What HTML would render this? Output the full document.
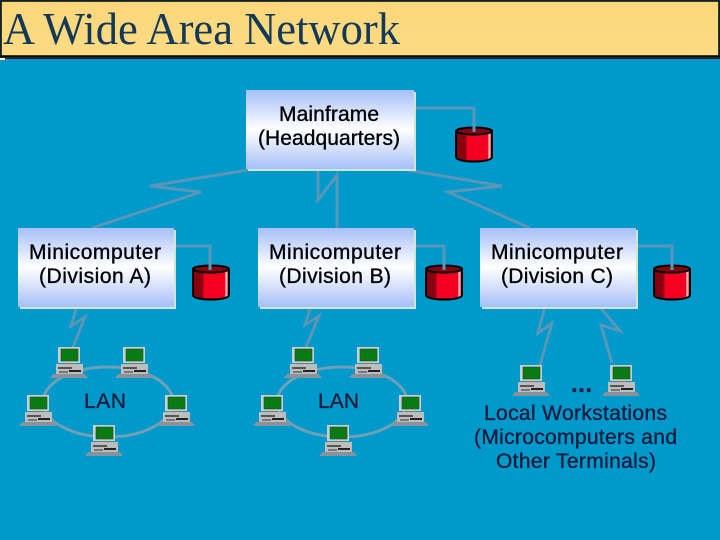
<!DOCTYPE html>
<html><head><meta charset="utf-8"><style>
html,body{margin:0;padding:0;width:720px;height:540px;overflow:hidden;background:#0099cc}
svg{display:block}
text{font-family:"Liberation Sans",sans-serif;font-size:21px;fill:#000;stroke:#000;stroke-width:.35px;text-anchor:start}
text.d{fill:#0a1a3a;stroke:#0a1a3a}
</style></head><body>
<svg width="720" height="540" viewBox="0 0 720 540" xmlns="http://www.w3.org/2000/svg">
<defs>
<linearGradient id="t" x1="0" y1="0" x2="0" y2="1"><stop offset="0" stop-color="#fbd67a"/><stop offset="1" stop-color="#fedc84"/></linearGradient>
<linearGradient id="b" x1="0" y1="0" x2="0" y2="1"><stop offset="0" stop-color="#a6bff8"/><stop offset=".5" stop-color="#ffffff"/><stop offset="1" stop-color="#a6bff8"/></linearGradient>
<linearGradient id="c" x1="0" y1="0" x2="1" y2="0"><stop offset="0" stop-color="#800010"/><stop offset=".28" stop-color="#900010"/><stop offset=".3" stop-color="#f40020"/><stop offset=".88" stop-color="#f40020"/><stop offset=".92" stop-color="#ffd0d0"/><stop offset="1" stop-color="#c00010"/></linearGradient>
<symbol id="pc" width="38" height="31" viewBox="0 0 38 31" overflow="visible">
<rect x="8" y="0" width="22" height="16" fill="#c6d0cc"/>
<rect x="11" y="2" width="17" height="12" fill="#0a7a14" stroke="#264a30" stroke-width=".6"/>
<rect x="14" y="16" width="10" height="2" fill="#777"/>
<rect x="6" y="17" width="27" height="10" fill="#bdbdbd"/>
<rect x="8" y="20" width="14" height="2" fill="#555"/>
<rect x="19" y="23" width="12" height="2" fill="#222"/>
<rect x="9" y="24" width="9" height="2" fill="#777"/>
<polygon points="3,27 35,27 38,31 0,31" fill="#87929a"/>
</symbol>
<symbol id="cy" width="38" height="36" viewBox="0 0 38 36" overflow="visible">
<path d="M1 5 V31 C1 37 37 37 37 31 V5 Z" fill="url(#c)" stroke="#000" stroke-width="2"/>
<ellipse cx="19" cy="5" rx="18" ry="3.5" fill="#8a0010" stroke="#000" stroke-width="2"/>
</symbol>
</defs>

<rect width="720" height="540" fill="#0099cc"/>
<rect x="0" y="56" width="720" height="3" fill="#222"/>
<rect x="0" y="58" width="5" height="2" fill="#fff"/>
<rect x="1" y="1" width="718" height="55" fill="url(#t)" stroke="#000" stroke-width="1.5"/>
<text x="3" y="44" textLength="397" lengthAdjust="spacingAndGlyphs" style="font-family:'Liberation Serif',serif;font-size:46px;fill:#123a58;stroke:none">A Wide Area Network</text>

<g fill="none" stroke="#5a96b6" stroke-width="3" stroke-linejoin="miter">
<polyline points="248,170 150,186 201,192 92,228"/>
<polyline points="318,171 318,200 337,175 337,228"/>
<polyline points="407,170 502,186 448,192 530,228"/>
<polyline points="415,108 474,108 474,132"/>
<polyline points="175,246 210,246 210,270"/>
<polyline points="415,246 444,246 444,270"/>
<polyline points="637,246 672,246 672,270"/>
<polyline points="77,306 71,326 85,317 73,347"/>
<polyline points="311,306 305,325 319,316 306,347"/>
<polyline points="545,307 538,333 552,323 540,365"/>
<polyline points="600,307 620,331 601,325 612,363"/>
</g>
<g fill="none" stroke="#6fa0b6" stroke-width="3">
<ellipse cx="108" cy="402" rx="65" ry="35"/>
<ellipse cx="342" cy="402" rx="65" ry="35"/>
</g>

<g stroke="none">
<rect x="248" y="92" width="168" height="79" fill="#cfe6d6"/>
<rect x="20" y="230" width="156" height="79" fill="#cfe6d6"/>
<rect x="260" y="230" width="156" height="79" fill="#cfe6d6"/>
<rect x="482" y="230" width="156" height="79" fill="#cfe6d6"/>
<rect x="246" y="90" width="168" height="79" fill="url(#b)"/>
<rect x="18" y="228" width="156" height="79" fill="url(#b)"/>
<rect x="258" y="228" width="156" height="79" fill="url(#b)"/>
<rect x="480" y="228" width="156" height="79" fill="url(#b)"/>
</g>

<use href="#cy" x="455" y="126"/>
<use href="#cy" x="192" y="264"/>
<use href="#cy" x="425" y="264"/>
<use href="#cy" x="653" y="264"/>
<g fill="none" stroke="#5a96b6" stroke-width="3">
<line x1="474" y1="120" x2="474" y2="132"/>
<line x1="210" y1="258" x2="210" y2="270"/>
<line x1="444" y1="258" x2="444" y2="270"/>
<line x1="672" y1="258" x2="672" y2="270"/>
</g>

<use href="#pc" x="50" y="347"/><use href="#pc" x="115" y="347"/>
<use href="#pc" x="19" y="395"/><use href="#pc" x="157" y="395"/><use href="#pc" x="85" y="425"/>
<use href="#pc" x="284" y="347"/><use href="#pc" x="349" y="347"/>
<use href="#pc" x="253" y="395"/><use href="#pc" x="391" y="395"/><use href="#pc" x="319" y="425"/>
<use href="#pc" x="512" y="365"/><use href="#pc" x="602" y="365"/>

<text x="279" y="121" textLength="100" lengthAdjust="spacing">Mainframe</text>
<text x="258" y="145" textLength="142" lengthAdjust="spacing">(Headquarters)</text>
<text x="29" y="259" textLength="132" lengthAdjust="spacing">Minicomputer</text>
<text x="39" y="283" textLength="112" lengthAdjust="spacing">(Division A)</text>
<text x="269" y="259" textLength="132" lengthAdjust="spacing">Minicomputer</text>
<text x="279" y="283" textLength="112" lengthAdjust="spacing">(Division B)</text>
<text x="491" y="259" textLength="132" lengthAdjust="spacing">Minicomputer</text>
<text x="501" y="283" textLength="112" lengthAdjust="spacing">(Division C)</text>
<text class="d" x="84" y="408" textLength="42" lengthAdjust="spacing">LAN</text>
<text class="d" x="318" y="408" textLength="41" lengthAdjust="spacing">LAN</text>
<text class="d" x="571" y="392" textLength="21" lengthAdjust="spacing" style="font-size:24px;font-weight:bold">...</text>
<text class="d" x="484" y="420" textLength="183" lengthAdjust="spacing">Local Workstations</text>
<text class="d" x="474" y="444" textLength="203" lengthAdjust="spacing">(Microcomputers and</text>
<text class="d" x="496" y="468" textLength="160" lengthAdjust="spacing">Other Terminals)</text>
</svg>
</body></html>
